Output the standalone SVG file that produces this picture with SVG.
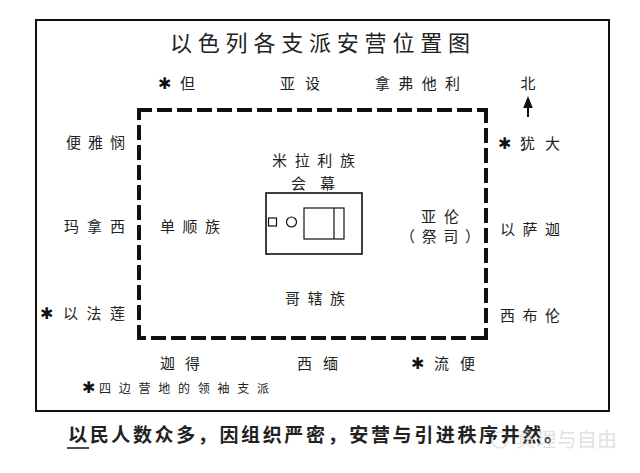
<svg xmlns="http://www.w3.org/2000/svg" width="640" height="473" viewBox="0 0 640 473">
<defs>
<style>
.t{font-family:"Noto Sans CJK SC","Noto Sans CJK TC",sans-serif;fill:#222;}
.lab{font-size:15px;}
.ast{font-family:"DejaVu Sans",sans-serif;font-size:16px;fill:#111;}
.dash{stroke:#111;stroke-width:4;stroke-dasharray:15 5;fill:none;}
.thin{stroke:#111;stroke-width:1.6;fill:none;}
</style>
<marker id="ah" viewBox="0 0 10 10" refX="5" refY="5" markerWidth="6" markerHeight="6" orient="auto">
<path d="M0,1 L10,5 L0,9 Z" fill="#111"/>
</marker>
</defs>
<rect width="640" height="473" fill="#fff"/>
<rect x="36" y="20" width="573" height="391" fill="none" stroke="#111" stroke-width="2"/>
<text class="t" x="170" y="51" font-size="22" textLength="300" lengthAdjust="spacing">以色列各支派安营位置图</text>

<g id="camp">
<path class="dash" d="M137,110 H486"/>
<path class="dash" d="M486,108 V340"/>
<path class="dash" d="M486,338 H137"/>
<path class="dash" d="M139,340 V108"/>
</g>

<g id="north">
<text class="t lab" x="528" y="89" text-anchor="middle">北</text>
</g>
<g id="connectors">
<line x1="528" y1="117" x2="528" y2="102" stroke="#111" stroke-width="2" marker-end="url(#ah)"/>
</g>

<g id="dan"><text class="ast" x="158" y="89">✱</text><text class="t lab" x="180" y="89">但</text></g>
<g id="asher"><text class="t lab" x="280" y="89" textLength="40" lengthAdjust="spacing">亚设</text></g>
<g id="naphtali"><text class="t lab" x="375" y="89" textLength="85" lengthAdjust="spacing">拿弗他利</text></g>

<g id="benjamin"><text class="t lab" x="66" y="148" textLength="59" lengthAdjust="spacing">便雅悯</text></g>
<g id="manasseh"><text class="t lab" x="64" y="232" textLength="61" lengthAdjust="spacing">玛拿西</text></g>
<g id="ephraim"><text class="ast" x="40" y="319">✱</text><text class="t lab" x="63" y="319" textLength="62" lengthAdjust="spacing">以法莲</text></g>

<g id="judah"><text class="ast" x="498" y="149">✱</text><text class="t lab" x="520" y="149" textLength="40" lengthAdjust="spacing">犹大</text></g>
<g id="issachar"><text class="t lab" x="500" y="235" textLength="60" lengthAdjust="spacing">以萨迦</text></g>
<g id="zebulun"><text class="t lab" x="500" y="321" textLength="60" lengthAdjust="spacing">西布伦</text></g>

<g id="gad"><text class="t lab" x="160" y="369" textLength="40" lengthAdjust="spacing">迦得</text></g>
<g id="simeon"><text class="t lab" x="297" y="369" textLength="41" lengthAdjust="spacing">西缅</text></g>
<g id="reuben"><text class="ast" x="411" y="369">✱</text><text class="t lab" x="434" y="369" textLength="41" lengthAdjust="spacing">流便</text></g>

<g id="legend"><text class="ast" x="82" y="393" font-size="12">✱</text><text class="t" x="99" y="393" font-size="12" textLength="170" lengthAdjust="spacing">四边营地的领袖支派</text></g>

<g id="merari"><text class="t lab" x="272" y="166" textLength="83" lengthAdjust="spacing">米拉利族</text></g>
<g id="tabernacle-label"><text class="t lab" x="291" y="189" textLength="44" lengthAdjust="spacing">会幕</text></g>
<g id="gershon"><text class="t lab" x="160" y="232" textLength="60" lengthAdjust="spacing">单顺族</text></g>
<g id="aaron"><text class="t lab" x="421" y="222" textLength="38" lengthAdjust="spacing">亚伦</text><text class="t lab" x="400" y="242" textLength="80" lengthAdjust="spacing">（祭司）</text></g>
<g id="kohath"><text class="t lab" x="285" y="304" textLength="60" lengthAdjust="spacing">哥辖族</text></g>

<g id="tabernacle">
<rect class="thin" x="266" y="193" width="96" height="61"/>
<rect x="268.5" y="218" width="8" height="8" fill="none" stroke="#111" stroke-width="1.2"/>
<circle cx="291.5" cy="222" r="5" fill="none" stroke="#111" stroke-width="1.2"/>
<rect x="304" y="208" width="40" height="31" fill="none" stroke="#111" stroke-width="1.2"/>
<line x1="334" y1="208" x2="334" y2="239" stroke="#111" stroke-width="1.2"/>
</g>

<g id="caption">
<text class="t" x="68" y="442" font-size="19" font-weight="bold" textLength="495" lengthAdjust="spacing">以民人数众多，因组织严密，安营与引进秩序井然。</text>
<line x1="67" y1="448" x2="89" y2="448" stroke="#111" stroke-width="1.5"/>
</g>
<g id="watermark" opacity="0.35">
<circle cx="500" cy="440" r="8" fill="none" stroke="#999" stroke-width="1.2"/>
<text class="t" x="516" y="447" font-size="20" style="fill:#aaa" textLength="101" lengthAdjust="spacing">真理与自由</text>
</g>
</svg>
